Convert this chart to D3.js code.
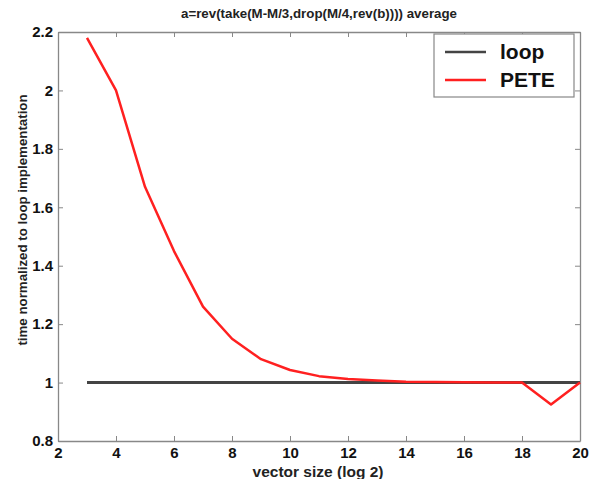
<!DOCTYPE html>
<html>
<head>
<meta charset="utf-8">
<script src="https://d3js.org/d3.v7.min.js"></script>
<style>
  body { margin: 0; background: #fff; }
  text { font-family: "Liberation Sans", Arial, sans-serif; font-weight: bold; }
</style>
</head>
<body>
<script>
// data
const sizes = [3, 4, 5, 6, 7, 8, 9, 10, 11, 12, 13, 14, 15, 16, 17, 18, 19, 20];
const loopVals = [1, 1, 1, 1, 1, 1, 1, 1, 1, 1, 1, 1, 1, 1, 1, 1, 1, 1];
const peteVals = [2.18, 2.0, 1.67, 1.45, 1.26, 1.15, 1.08, 1.043, 1.022, 1.012, 1.007, 1.003, 1.002, 1.001, 1.0, 1.0, 0.925, 1.0];
const xTicks = [2, 4, 6, 8, 10, 12, 14, 16, 18, 20];
const yTicks = [0.8, 1, 1.2, 1.4, 1.6, 1.8, 2, 2.2];
const seriesNames = ["loop", "PETE"];
const seriesColors = ["#444444", "#ff2020"];

const w = 597, h = 479;
const margin = { top: 32, right: 17, bottom: 38, left: 58 };

const svg = d3.select("body").append("svg")
    .attr("width", w)
    .attr("height", h);

const x = d3.scaleLinear().domain([2, 20]).range([margin.left, w - margin.right]);
const y = d3.scaleLinear().domain([0.8, 2.2]).range([h - margin.bottom, margin.top]);

const fmt = d => String(+d.toFixed(1));

// axes on all four sides, ticks pointing inward
const axColor = "#888";
function styleAxis(g) {
    g.select(".domain").attr("stroke", axColor).attr("stroke-width", 1.3);
    g.selectAll(".tick line").attr("stroke", axColor);
    g.selectAll(".tick text").attr("fill", "#111").style("font-size", "15px").style("font-weight", "bold");
}

svg.append("g")
    .attr("transform", "translate(0," + (h - margin.bottom) + ")")
    .call(d3.axisBottom(x).tickValues(xTicks).tickFormat(fmt).tickSizeInner(-5).tickSizeOuter(0).tickPadding(6))
    .call(styleAxis);

svg.append("g")
    .attr("transform", "translate(0," + margin.top + ")")
    .call(d3.axisTop(x).tickValues(xTicks).tickFormat("").tickSizeInner(-5).tickSizeOuter(0))
    .call(styleAxis);

svg.append("g")
    .attr("transform", "translate(" + margin.left + ",0)")
    .call(d3.axisLeft(y).tickValues(yTicks).tickFormat(fmt).tickSizeInner(-5).tickSizeOuter(0).tickPadding(5))
    .call(styleAxis);

svg.append("g")
    .attr("transform", "translate(" + (w - margin.right) + ",0)")
    .call(d3.axisRight(y).tickValues(yTicks).tickFormat("").tickSizeInner(-5).tickSizeOuter(0))
    .call(styleAxis);

const line = d3.line().x(d => x(d[0])).y(d => y(d[1]));

svg.append("path")
    .datum(sizes.map((s, i) => [s, loopVals[i]]))
    .attr("fill", "none")
    .attr("stroke", seriesColors[0])
    .attr("stroke-width", 3)
    .attr("d", line);

svg.append("path")
    .datum(sizes.map((s, i) => [s, peteVals[i]]))
    .attr("fill", "none")
    .attr("stroke", seriesColors[1])
    .attr("stroke-width", 2.5)
    .attr("stroke-linejoin", "round")
    .attr("d", line);

// title and labels
svg.append("text")
    .attr("x", (margin.left + w - margin.right) / 2)
    .attr("y", 18)
    .attr("text-anchor", "middle")
    .style("font-size", "13.3px")
    .attr("fill", "#222")
    .text("a=rev(take(M-M/3,drop(M/4,rev(b)))) average");

svg.append("text")
    .attr("x", 318)
    .attr("y", 477)
    .attr("text-anchor", "middle")
    .style("font-size", "15.5px")
    .attr("fill", "#222")
    .text("vector size (log 2)");

svg.append("text")
    .attr("transform", "translate(27,220) rotate(-90)")
    .attr("text-anchor", "middle")
    .style("font-size", "13.3px")
    .attr("fill", "#222")
    .text("time normalized to loop implementation");

// legend
const lg = svg.append("g").attr("transform", "translate(434,34)");
lg.append("rect")
    .attr("width", 140).attr("height", 63)
    .attr("fill", "#fff").attr("stroke", "#888").attr("stroke-width", 1.2);
seriesNames.forEach((name, i) => {
    const ly = 18 + i * 28;
    lg.append("line")
        .attr("x1", 11).attr("x2", 52).attr("y1", ly).attr("y2", ly)
        .attr("stroke", seriesColors[i]).attr("stroke-width", 2.5);
    lg.append("text")
        .attr("x", 66).attr("y", ly + 7)
        .style("font-size", "21px")
        .attr("fill", "#111")
        .text(name);
});
</script>
</body>
</html>
